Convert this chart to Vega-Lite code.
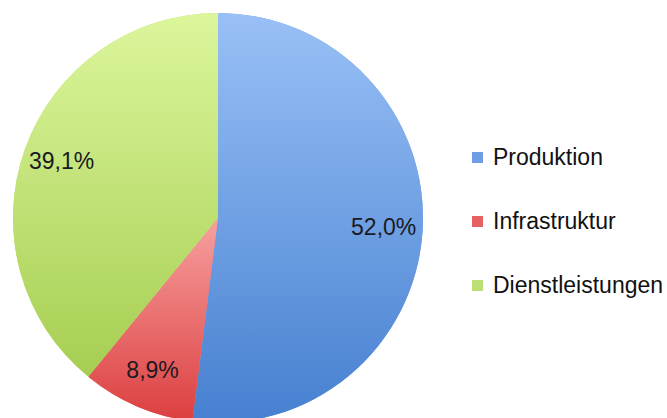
{
  "$schema": "https://vega.github.io/schema/vega-lite/v6.json",
  "width": 436,
  "height": 436,
  "padding": 0,
  "autosize": {"type": "pad"},
  "background": "white",
  "config": {"view": {"stroke": null}},
  "data": {
    "values": [
      {"cat": "Produktion", "value": 52.0, "label": "52,0%", "order": 1},
      {"cat": "Infrastruktur", "value": 8.9, "label": "8,9%", "order": 2},
      {"cat": "Dienstleistungen", "value": 39.1, "label": "39,1%", "order": 3}
    ]
  },
  "transform": [
    {"stack": "value", "groupby": [], "sort": [{"field": "order", "order": "ascending"}], "as": ["v0", "v1"]}
  ],
  "layer": [
    {
      "mark": {"type": "arc", "outerRadius": 205},
      "encoding": {
        "theta": {"field": "v0", "type": "quantitative", "scale": {"domain": [0, 100]}},
        "theta2": {"field": "v1"},
        "color": {
          "field": "cat",
          "type": "nominal",
          "scale": {"domain": ["Produktion", "Infrastruktur", "Dienstleistungen"], "range": ["#6e9de4", "#e66262", "#bcdf74"]},
          "legend": {
            "title": null,
            "orient": "none",
            "legendX": 466,
            "legendY": 146,
            "padding": 0,
            "symbolType": "square",
            "symbolSize": 120,
            "symbolStrokeWidth": 0,
            "labelFont": "Liberation Sans",
            "labelFontSize": 23,
            "labelLimit": 400,
            "labelColor": "#111111",
            "labelOffset": 4,
            "rowPadding": 40
          }
        }
      }
    },
    {
      "transform": [{"filter": "datum.cat === 'Produktion'"}],
      "mark": {"type": "arc", "outerRadius": 205, "fill": {"gradient": "linear", "x1": 0, "y1": 0, "x2": 0, "y2": 1, "stops": [{"offset": 0, "color": "#99c0f6"}, {"offset": 1, "color": "#4680d0"}]}},
      "encoding": {"theta": {"field": "v0", "type": "quantitative"}, "theta2": {"field": "v1"}}
    },
    {
      "transform": [{"filter": "datum.cat === 'Infrastruktur'"}],
      "mark": {"type": "arc", "outerRadius": 205, "fill": {"gradient": "linear", "x1": 0, "y1": 0, "x2": 0, "y2": 1, "stops": [{"offset": 0, "color": "#f7a0a0"}, {"offset": 1, "color": "#dc3f3f"}]}},
      "encoding": {"theta": {"field": "v0", "type": "quantitative"}, "theta2": {"field": "v1"}}
    },
    {
      "transform": [{"filter": "datum.cat === 'Dienstleistungen'"}],
      "mark": {"type": "arc", "outerRadius": 205, "fill": {"gradient": "linear", "x1": 0, "y1": 0, "x2": 0, "y2": 1, "stops": [{"offset": 0, "color": "#dcf69c"}, {"offset": 1, "color": "#a6ce52"}]}},
      "encoding": {"theta": {"field": "v0", "type": "quantitative"}, "theta2": {"field": "v1"}}
    },
    {
      "mark": {"type": "text", "font": "Liberation Sans", "fontSize": 23, "color": "#1a1a22"},
      "encoding": {
        "theta": {"field": "value", "type": "quantitative", "stack": true},
        "order": {"field": "order", "type": "quantitative"},
        "radius": {"condition": {"test": "datum.cat === 'Infrastruktur'", "value": 177}, "value": 166},
        "text": {"field": "label", "type": "nominal"}
      }
    }
  ]
}
